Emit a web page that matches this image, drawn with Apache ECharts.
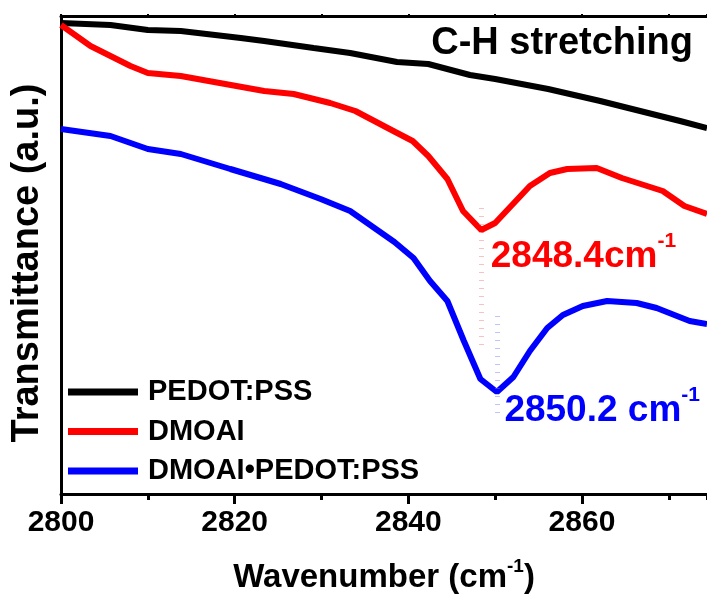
<!DOCTYPE html>
<html>
<head>
<meta charset="utf-8">
<script src="https://cdn.jsdelivr.net/npm/echarts@6/dist/echarts.min.js"></script>
<style>
  html, body { margin: 0; padding: 0; background: #fff; }
  #chart { width: 707px; height: 596px; }
</style>
</head>
<body>
<div id="chart"></div>
<script>
// 波数 (cm-1) / 透过率 (a.u.)
const wnPedot = [2800, 2805.7, 2810, 2813.8, 2820.7, 2823.4, 2829.1, 2833.3, 2838.7, 2842.3, 2847.1, 2850, 2856.1, 2858.6, 2862.1, 2866.7, 2871.3, 2874.4];
const tPedot  = [471, 469, 464, 463, 456, 453, 446, 441, 432, 430, 419, 415, 405, 400, 393, 383, 373, 366];

const wnDmoai = [2800, 2803.4, 2808, 2810, 2813.8, 2823.4, 2826.8, 2831, 2833.9, 2838.5, 2840.5, 2842.3, 2844.5, 2846.3, 2848.4, 2850, 2854, 2856.3, 2858.3, 2861.7, 2864.6, 2869.3, 2871.8, 2874.4];
const tDmoai  = [469, 448, 428, 421, 418, 403, 400, 391, 383, 362, 353, 338, 315, 283, 264, 271, 308, 321, 325, 326, 316, 303, 288, 280];

const wnMix = [2800, 2805.7, 2810, 2813.8, 2819.5, 2825.3, 2829.9, 2833.3, 2838.4, 2840.6, 2842.5, 2844.5, 2846.4, 2848.3, 2850.2, 2852.1, 2854, 2856, 2857.8, 2860.1, 2862.9, 2866.3, 2868.6, 2872.4, 2874.4];
const tMix  = [365, 358, 345, 340, 325, 310, 295, 283, 252, 236, 213, 193, 153, 115, 102, 117, 143, 166, 179, 188, 193, 191, 186, 173, 170];

const seriesNames = ['PEDOT:PSS', 'DMOAI', 'DMOAI\u2022PEDOT:PSS'];
const seriesColors = ['#000000', '#ff0000', '#0000ff'];

// 峰位标注: [波数, 虚线上端, 虚线下端]
const peakDmoai = [2848.4, 286, 145];
const peakMix = [2850.2, 178, 76];

const xMin = 2800, xMax = 2874.4;
const font = 'Liberation Sans, Arial, sans-serif';

function pairs(xs, ys) {
  return xs.map((x, i) => [x, ys[i]]);
}

const chart = echarts.init(document.getElementById('chart'));

// 峰位文字
const peakLabel = (peak, value, text, color, pos) => ({
  symbol: 'circle',
  symbolSize: 1,
  silent: true,
  itemStyle: { color: 'rgba(0,0,0,0)' },
  data: [{ coord: [peak[0], value] }],
  label: {
    show: true,
    position: pos,
    align: 'left',
    verticalAlign: 'middle',
    formatter: '{a|' + text + '}{s|-1}',
    rich: {
      a: { fontSize: 37, fontWeight: 'bold', color: color, fontFamily: font, lineHeight: 52 },
      s: { fontSize: 21, fontWeight: 'bold', color: color, fontFamily: font, lineHeight: 21, verticalAlign: 'top' }
    }
  }
});

// 虚线
const dropLine = (peak, color) => ({
  symbol: 'none',
  silent: true,
  label: { show: false },
  lineStyle: { color: color, width: 5, type: [1, 7] },
  data: [[{ coord: [peak[0], peak[1]] }, { coord: [peak[0], peak[2]] }]]
});

const option = {
  animation: false,
  backgroundColor: '#fff',
  title: {
    text: 'C-H stretching',
    right: 14,
    top: 25,
    padding: 0,
    textStyle: { fontSize: 38, fontWeight: 'bold', color: '#000', fontFamily: font }
  },
  legend: {
    orient: 'vertical',
    left: 68,
    top: 377,
    padding: 0,
    itemWidth: 70,
    itemHeight: 7,
    itemGap: 9.5,
    icon: 'rect',
    data: seriesNames,
    textStyle: { fontSize: 29, fontWeight: 'bold', color: '#000', fontFamily: font, lineHeight: 30, padding: [0, 0, 0, 5] }
  },
  grid: { left: 61, right: 0, top: 16, bottom: 102, outerBoundsMode: 'none' },
  xAxis: [
    {
      type: 'value',
      position: 'bottom',
      min: xMin, max: xMax, interval: 20,
      name: '{a|Wavenumber (cm}{s|-1}{a|)}',
      nameLocation: 'middle',
      nameGap: 63,
      nameTextStyle: {
        rich: {
          a: { fontSize: 33, fontWeight: 'bold', color: '#000', fontFamily: font, lineHeight: 42 },
          s: { fontSize: 19, fontWeight: 'bold', color: '#000', fontFamily: font, lineHeight: 19, verticalAlign: 'top' }
        }
      },
      axisLine: { lineStyle: { color: '#000', width: 3 } },
      axisTick: { length: 10, lineStyle: { width: 3, color: '#000' } },
      axisLabel: {
        margin: 14,
        fontSize: 30, fontWeight: 'bold', color: '#000', fontFamily: font,
        showMaxLabel: false,
        formatter: v => (v % 20 === 0 ? String(v) : '')
      },
      splitLine: { show: false }
    },
    {
      type: 'value',
      position: 'bottom',
      min: xMin, max: xMax, interval: 10,
      axisLine: { show: false },
      axisTick: { length: 6, lineStyle: { width: 3, color: '#000' } },
      axisLabel: { show: false },
      splitLine: { show: false }
    },
    {
      type: 'value',
      position: 'top',
      min: xMin, max: xMax, interval: 10,
      axisLine: { lineStyle: { color: '#000', width: 3 } },
      axisTick: { length: 2, lineStyle: { width: 2, color: '#000' } },
      axisLabel: { show: false },
      splitLine: { show: false }
    }
  ],
  yAxis: {
    type: 'value',
    min: 0, max: 478,
    name: 'Transmittance (a.u.)',
    nameLocation: 'middle',
    nameGap: 14,
    nameTextStyle: { fontSize: 38, fontWeight: 'bold', color: '#000', fontFamily: font, padding: [0, 16, 0, 0] },
    axisLine: { show: true, lineStyle: { color: '#000', width: 3 } },
    axisTick: { show: false },
    axisLabel: { show: false },
    splitLine: { show: false }
  },
  series: [
    {
      name: seriesNames[0], type: 'line', xAxisIndex: 0,
      data: pairs(wnPedot, tPedot),
      showSymbol: false, color: seriesColors[0],
      lineStyle: { width: 6, color: seriesColors[0] }
    },
    {
      name: seriesNames[1], type: 'line', xAxisIndex: 0,
      data: pairs(wnDmoai, tDmoai),
      showSymbol: false, color: seriesColors[1],
      lineStyle: { width: 6, color: seriesColors[1] },
      markLine: dropLine(peakDmoai, 'rgba(240,120,120,0.45)'),
      markPoint: peakLabel(peakDmoai, 264, '2848.4cm', seriesColors[1], [10, 27])
    },
    {
      name: seriesNames[2], type: 'line', xAxisIndex: 0,
      data: pairs(wnMix, tMix),
      showSymbol: false, color: seriesColors[2],
      lineStyle: { width: 6, color: seriesColors[2] },
      markLine: dropLine(peakMix, 'rgba(120,120,240,0.45)'),
      markPoint: peakLabel(peakMix, 102, '2850.2 cm', seriesColors[2], [8, 19])
    }
  ]
};

chart.setOption(option);
</script>
</body>
</html>
